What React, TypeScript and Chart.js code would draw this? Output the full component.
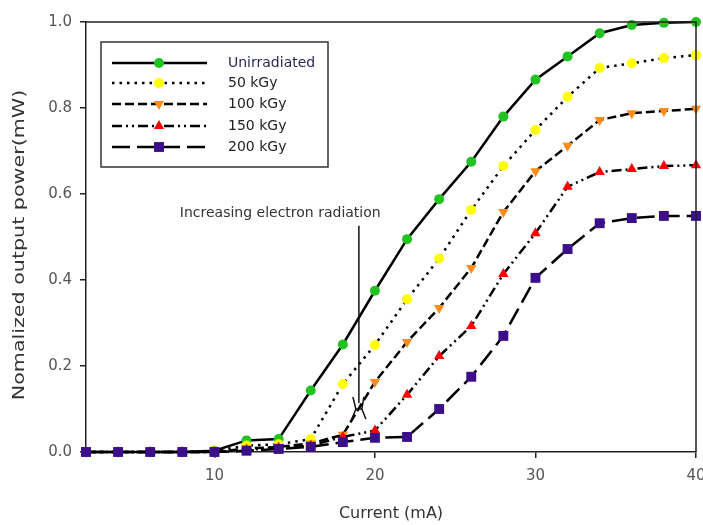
import React, { useEffect, useRef } from "react";
import { Chart, registerables } from "chart.js";

Chart.register(...registerables);

const currents = [2, 4, 6, 8, 10, 12, 14, 16, 18, 20, 22, 24, 26, 28, 30, 32, 34, 36, 38, 40];
const unirradiated = [0, 0, 0, 0, 0.003, 0.027, 0.03, 0.143, 0.25, 0.375, 0.495, 0.588, 0.675, 0.78, 0.866, 0.92, 0.974, 0.993, 0.998, 1.0];
const kGy50 = [0, 0, 0, 0, 0.002, 0.015, 0.018, 0.03, 0.158, 0.249, 0.355, 0.45, 0.563, 0.665, 0.749, 0.826, 0.893, 0.904, 0.916, 0.923];
const kGy100 = [0, 0, 0, 0, 0, 0.008, 0.012, 0.02, 0.04, 0.163, 0.256, 0.335, 0.428, 0.558, 0.653, 0.712, 0.772, 0.788, 0.793, 0.798];
const kGy150 = [0, 0, 0, 0, 0, 0.005, 0.01, 0.015, 0.035, 0.05, 0.133, 0.223, 0.293, 0.414, 0.509, 0.617, 0.651, 0.658, 0.665, 0.667];
const kGy200 = [0, 0, 0, 0, 0, 0.003, 0.007, 0.012, 0.023, 0.033, 0.035, 0.1, 0.175, 0.27, 0.405, 0.472, 0.532, 0.544, 0.549, 0.549];

const seriesNames = ["Unirradiated", "50 kGy", "100 kGy", "150 kGy", "200 kGy"];
const seriesValues = [unirradiated, kGy50, kGy100, kGy150, kGy200];
const seriesColors = ["#22c222", "#ffff00", "#ff8c1a", "#ff0000", "#3b0e8c"];
const seriesPoints = ["circle", "circle", "triangle", "triangle", "rect"];
const seriesRotation = [0, 0, 180, 0, 0];
const seriesRadius = [5, 5, 6, 6, 7];
const seriesDash: number[][] = [[], [2.5, 5], [9, 4], [10, 4, 2, 4, 2, 4], [18, 7]];

const xTicks = [10, 20, 30, 40];
const yTitle = "Nomalized output power(mW)";
const annotationText = "Increasing electron radiation";
const annotationTextPos = { x: 14.1, y: 0.556 };
const arrowTop = { x: 19.0, y: 0.526 };
const arrowBottom = { x: 19.0, y: 0.114 };

const FONT = "'DejaVu Sans', sans-serif";

function drawMarker(ctx: CanvasRenderingContext2D, style: string, x: number, y: number, r: number, rot: number, color: string) {
  ctx.save();
  ctx.fillStyle = color;
  ctx.beginPath();
  if (style === "circle") {
    ctx.arc(x, y, r, 0, Math.PI * 2);
  } else if (style === "rect") {
    const s = r * Math.SQRT1_2;
    ctx.rect(x - s, y - s, 2 * s, 2 * s);
  } else {
    ctx.translate(x, y);
    ctx.rotate((rot * Math.PI) / 180);
    const h = r * 1.5;
    const side = (h * 2) / Math.sqrt(3);
    ctx.moveTo(0, -r);
    ctx.lineTo(side / 2, -r + h);
    ctx.lineTo(-side / 2, -r + h);
    ctx.closePath();
  }
  ctx.fill();
  ctx.restore();
}

const framePlugin = {
  id: "frameLegendAnnot",
  afterDraw(chart: any) {
    const { ctx, chartArea: a, scales } = chart;
    ctx.save();
    // frame top and right
    ctx.strokeStyle = "#222";
    ctx.lineWidth = 1.5;
    ctx.beginPath();
    ctx.moveTo(a.left, a.top);
    ctx.lineTo(a.right, a.top);
    ctx.lineTo(a.right, a.bottom);
    ctx.stroke();

    // y title (stretched along its length)
    ctx.save();
    ctx.translate(20, (a.top + a.bottom) / 2 + 8);
    ctx.rotate(-Math.PI / 2);
    ctx.scale(1.29, 1);
    ctx.fillStyle = "#333";
    ctx.font = `16px ${FONT}`;
    ctx.textAlign = "center";
    ctx.textBaseline = "middle";
    ctx.fillText(yTitle, 0, 0);
    ctx.restore();

    // annotation
    const xs = scales.x;
    const ys = scales.y;
    ctx.fillStyle = "#333";
    ctx.font = `14px ${FONT}`;
    ctx.textAlign = "center";
    ctx.textBaseline = "middle";
    ctx.fillText(annotationText, xs.getPixelForValue(annotationTextPos.x), ys.getPixelForValue(annotationTextPos.y));
    const ax = xs.getPixelForValue(arrowTop.x);
    const ay1 = ys.getPixelForValue(arrowTop.y);
    const ay2 = ys.getPixelForValue(arrowBottom.y);
    ctx.strokeStyle = "#111";
    ctx.lineWidth = 1.5;
    ctx.beginPath();
    ctx.moveTo(ax, ay1);
    ctx.lineTo(ax, ay2);
    ctx.stroke();
    ctx.beginPath();
    ctx.moveTo(ax - 6, ay2 - 6);
    ctx.lineTo(ax - 3, ay2 + 6);
    ctx.lineTo(ax - 8, ay2 + 18);
    ctx.moveTo(ax + 5, ay2 - 6);
    ctx.lineTo(ax + 3, ay2 + 6);
    ctx.lineTo(ax + 7, ay2 + 16);
    ctx.moveTo(ax - 3, ay2 + 6);
    ctx.lineTo(ax + 3, ay2 + 6);
    ctx.stroke();

    // legend
    const lx = a.left + 15;
    const ly = a.top + 20;
    ctx.strokeStyle = "#333";
    ctx.lineWidth = 1.5;
    ctx.strokeRect(lx, ly, 227, 125);
    const rows = [21, 41, 62, 84, 105];
    for (let i = 0; i < seriesNames.length; i++) {
      const y = ly + rows[i];
      ctx.save();
      ctx.strokeStyle = "#000";
      ctx.lineWidth = 2.5;
      ctx.setLineDash(seriesDash[i]);
      ctx.beginPath();
      ctx.moveTo(lx + 11, y);
      ctx.lineTo(lx + 106, y);
      ctx.stroke();
      ctx.restore();
      drawMarker(ctx, seriesPoints[i], lx + 58, y, seriesRadius[i], seriesRotation[i], seriesColors[i]);
      ctx.fillStyle = i === 0 ? "#2a2a55" : "#222";
      ctx.font = `14px ${FONT}`;
      ctx.textAlign = "left";
      ctx.textBaseline = "middle";
      ctx.fillText(seriesNames[i], lx + 127, y);
    }
    ctx.restore();
  },
};

export default function App() {
  const ref = useRef<HTMLCanvasElement | null>(null);
  useEffect(() => {
    if (!ref.current) return;
    const datasets = seriesNames.map((name, i) => ({
      label: name,
      data: currents.map((c, j) => ({ x: c, y: seriesValues[i][j] })),
      borderColor: "#000",
      borderWidth: 2.5,
      borderDash: seriesDash[i],
      pointStyle: seriesPoints[i],
      pointRotation: seriesRotation[i],
      pointRadius: seriesRadius[i],
      pointBackgroundColor: seriesColors[i],
      pointBorderColor: seriesColors[i],
      pointBorderWidth: 0,
      fill: false,
      tension: 0,
      clip: false as any,
      order: seriesNames.length - i,
    }));
    const chart = new Chart(ref.current, {
      type: "line",
      data: { datasets },
      plugins: [framePlugin],
      options: {
        animation: false,
        responsive: true,
        maintainAspectRatio: false,
        layout: { padding: { top: 22, right: 6, left: 0, bottom: 0 } },
        plugins: { legend: { display: false }, tooltip: { enabled: false } },
        scales: {
          x: {
            type: "linear",
            min: 2,
            max: 40,
            afterBuildTicks: (s: any) => {
              s.ticks = xTicks.map((v) => ({ value: v }));
            },
            afterFit: (s: any) => {
              s.height = 73;
              s.paddingRight = 0;
              s.paddingLeft = 0;
            },
            grid: { drawOnChartArea: false, drawTicks: true, tickLength: 6, color: "#222", lineWidth: 1.5 },
            border: { display: true, color: "#222", width: 1.5 },
            ticks: { color: "#555", font: { family: FONT, size: 15 }, padding: 9, maxRotation: 0, autoSkip: false },
            title: { display: true, text: "Current (mA)", color: "#333", font: { family: FONT, size: 16 }, padding: { top: 0, bottom: 2 } },
          },
          y: {
            min: 0,
            max: 1,
            afterFit: (s: any) => {
              s.width = 86;
            },
            grid: { drawOnChartArea: false, drawTicks: true, tickLength: 6, color: "#222", lineWidth: 1.5 },
            border: { display: true, color: "#222", width: 1.5 },
            ticks: { stepSize: 0.2, color: "#555", font: { family: FONT, size: 15 }, padding: 8, callback: (v: any) => Number(v).toFixed(1) },
            title: { display: false },
          },
        },
      },
    });
    return () => chart.destroy();
  }, []);
  return (
    <div style={{ position: "fixed", left: 0, top: 0, width: 703, height: 525, background: "#fff" }}>
      <canvas ref={ref} />
    </div>
  );
}
